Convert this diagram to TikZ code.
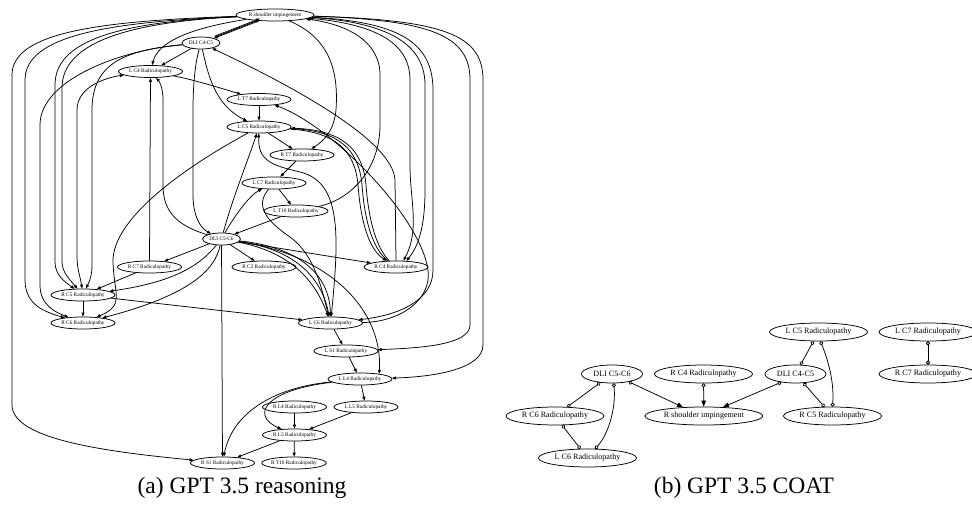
\documentclass[tikz,border=0pt]{standalone}
\usepackage{fontspec}
\setmainfont{Liberation Serif}
\usetikzlibrary{shapes.geometric,arrows.meta}
\begin{document}
\begin{tikzpicture}[x=1pt,y=-1pt,
  lnode/.style={ellipse,draw,line width=0.75pt,inner sep=0pt,minimum width=64pt,minimum height=12pt,font=\fontsize{5.3}{6}\selectfont},
  ldli/.style={lnode,minimum width=38pt},
  lrsi/.style={lnode,minimum width=78pt},
  e/.style={line width=0.75pt,-{Triangle[length=4pt,width=3pt]}},
  er/.style={line width=0.75pt,{Triangle[length=4pt,width=3pt]}-},
  eb/.style={line width=0.75pt,{Triangle[length=4pt,width=3pt]}-{Triangle[length=4pt,width=3pt]}},
  rnode/.style={ellipse,draw,line width=0.75pt,inner sep=0pt,minimum width=98pt,minimum height=18pt,font=\fontsize{8.1}{9}\selectfont},
  rdli/.style={rnode,minimum width=61pt},
  rrsi/.style={rnode,minimum width=118pt},
  oo/.style={line width=0.75pt,{Circle[open,length=4pt,width=4pt]}-{Circle[open,length=4pt,width=4pt]}},
  oa/.style={line width=0.75pt,{Circle[open,length=4pt,width=4pt]}-{Triangle[length=6pt,width=4.5pt]}},
  captxt/.style={font=\fontsize{23.5}{26}\selectfont,inner sep=0pt}
]
\useasboundingbox (0,0) rectangle (972,508);
% ---------------- left graph nodes
\node[lrsi] (rsi) at (275,15) {R shoulder impingement};
\node[ldli] (d45) at (201,43) {DLI C4-C5};
\node[lnode] (lc4) at (150.5,71.5) {L C4 Radiculopathy};
\node[lnode] (lt7) at (259,99.5) {L T7 Radiculopathy};
\node[lnode] (lc5) at (259,127) {L C5 Radiculopathy};
\node[lnode] (rt7) at (302,155) {R T7 Radiculopathy};
\node[lnode] (lc7) at (274,183) {L C7 Radiculopathy};
\node[lnode] (lt10) at (296,211) {L T10 Radiculopathy};
\node[ldli] (d56) at (221.5,239) {DLI C5-C6};
\node[lnode] (rc7) at (149.5,267) {R C7 Radiculopathy};
\node[lnode] (rc2) at (264,267) {R C2 Radiculopathy};
\node[lnode] (rc4) at (396,267) {R C4 Radiculopathy};
\node[lnode] (rc5) at (83,295) {R C5 Radiculopathy};
\node[lnode] (rc6) at (83,323) {R C6 Radiculopathy};
\node[lnode] (lc6) at (330.5,323) {L C6 Radiculopathy};
\node[lnode] (ls1) at (346,351) {L S1 Radiculopathy};
\node[lnode] (ll4) at (360,379) {L L4 Radiculopathy};
\node[lnode] (rl4) at (294.5,407) {R L4 Radiculopathy};
\node[lnode] (ll5) at (366,407) {L L5 Radiculopathy};
\node[lnode] (rl5) at (294.5,435) {R L5 Radiculopathy};
\node[lnode] (rs1) at (222.5,463) {R S1 Radiculopathy};
\node[lnode] (rt10) at (294,463) {R T10 Radiculopathy};
% ---------------- left graph edges
% left fan from R shoulder impingement
\draw[e] (rsi) .. controls (100,21) and (12,32) .. (12,75) -- (12,405) .. controls (12,440) and (110,452) .. (rs1);
\draw[e] (rsi) .. controls (110,22) and (25,35) .. (25,80) -- (25,280) .. controls (25,305) and (45,312) .. (rc6);
\draw[e] (rsi) .. controls (120,22) and (55,40) .. (55,85) -- (55,262) .. controls (55,275) and (65,282) .. (rc5);
\draw[e] (rsi) .. controls (130,22) and (62,42) .. (62,88) -- (62,262) .. controls (62,272) and (70,280) .. (rc5);
\draw[e] (d45) .. controls (120,50) and (40,80) .. (40,125) -- (40,285) .. controls (40,305) and (55,312) .. (rc6);
\draw[eb] (rc5) .. controls (80,275) and (77,270) .. (77,255) -- (77,110) .. controls (77,85) and (110,77) .. (lc4);
\draw[e] (d45) .. controls (130,50) and (92,60) .. (92,110) -- (92,265) .. controls (92,275) and (90,280) .. (rc5);
\draw[e] (rsi) .. controls (190,28) and (158,42) .. (lc4);
\draw[e] (d45) -- (lc4);
\draw[e] (rsi.-160) -- (d45.20);
\draw[er] ([xshift=0.45pt,yshift=1.1pt]rsi.-160) -- ([xshift=0.45pt,yshift=1.1pt]d45.20);
\draw[er] ([xshift=0.9pt,yshift=2.2pt]rsi.-160) -- ([xshift=0.9pt,yshift=2.2pt]d45.20);
\draw[e] (rc7.north) -- (lc4.south);
\draw[e] (d56) .. controls (175,225) and (163,210) .. (163,185) -- (163,100) .. controls (163,85) and (158,80) .. (lc4);
\draw[e] (d45) .. controls (196,60) and (193,80) .. (193,110) -- (193,195) .. controls (193,215) and (200,228) .. (d56);
\draw[e] (lc4) .. controls (195,80) and (220,88) .. (lt7);
\draw[e] (d45) .. controls (208,75) and (215,105) .. (lc5);
\draw[e] (lt7) -- (lc5);
\draw[e] (lc5) -- (rt7);
\draw[e] (rsi) .. controls (335,40) and (338,80) .. (336,110) .. controls (334,130) and (325,140) .. (rt7);
\draw[e] (rt7) -- (lc7);
\draw[e] (lc7) -- (lt10);
\draw[e] (lt10) -- (d56);
\draw[e] (lt10) .. controls (350,200) and (380,170) .. (380,125) -- (380,75) .. controls (380,40) and (345,24) .. (rsi);
\draw[e] (d56) .. controls (235,215) and (250,195) .. (lc7);
\draw[e] (d56) .. controls (232,200) and (248,160) .. (lc5);
\draw[e] (lc5) .. controls (180,170) and (112,220) .. (113,262) .. controls (114,295) and (125,305) .. (rc6);
\draw[e] (d56) -- (rc7);
\draw[e] (d56) .. controls (200,265) and (175,282) .. (rc5);
\draw[e] (d56) .. controls (215,270) and (190,295) .. (rc6);
\draw[e] (rc7) -- (rc5);
\draw[e] (rc5) -- (rc6);
\draw[e] (rc5) -- (lc6);
\draw[e] (d56) -- (rs1);
\draw[e] (d56) -- (rc2);
\draw[e] (d56) -- (rc4);
\draw[e] (d56) .. controls (290,252) and (315,280) .. (lc6);
\draw[e] (d56) .. controls (298,250) and (322,280) .. (lc6);
\draw[e] (d56) .. controls (306,248) and (330,280) .. (lc6);
\draw[e] (d56) .. controls (330,255) and (383,310) .. (ll4.15);
\draw[eb] (lc5) .. controls (258,160) and (270,165) .. (300,172) .. controls (340,182) and (340,230) .. (lc6);
\draw[e] (lc7) .. controls (255,205) and (265,220) .. (290,237) .. controls (315,255) and (322,290) .. (lc6);
\draw[e] (lc5) .. controls (335,132) and (355,150) .. (358,185) .. controls (361,225) and (370,250) .. (rc4);
\draw[er] (lc5) .. controls (339,131) and (359,150) .. (362,185) .. controls (365,225) and (374,250) .. (rc4);
\draw[er] (lc5) .. controls (343,130) and (363,150) .. (366,185) .. controls (369,225) and (378,250) .. (rc4);
\draw[e] (rc4.north) -- (395,180) .. controls (393,140) and (290,85) .. (d45);
\draw[e] (lc6) .. controls (400,322) and (432,300) .. (428,270) .. controls (420,215) and (330,125) .. (lt7);
% right fan from R shoulder impingement
\draw[eb] (rsi) .. controls (370,24) and (410,40) .. (410,80) -- (410,165) .. controls (410,200) and (420,230) .. (rc4.40);
\draw[e] (rsi) .. controls (380,22) and (425,40) .. (425,85) -- (425,190) .. controls (425,235) and (415,250) .. (rc4.30);
\draw[e] (rsi) .. controls (395,22) and (433,40) .. (433,90) -- (433,270) .. controls (433,300) and (400,315) .. (lc6);
\draw[e] (rsi) .. controls (430,20) and (470,35) .. (470,80) -- (470,325) .. controls (470,345) and (420,348) .. (ls1);
\draw[e] (rsi) .. controls (445,20) and (483,35) .. (483,80) -- (483,345) .. controls (483,370) and (430,377) .. (ll4);
% bottom part
\draw[e] (lc6) -- (ls1);
\draw[e] (ls1) -- (ll4);
\draw[e] (ll4) -- (ll5);
\draw[e] (ll4) .. controls (270,388) and (232,415) .. (rs1);
\draw[e] (ll4) .. controls (265,390) and (250,415) .. (rl5);
\draw[e] (rl4) -- (rl5);
\draw[e] (ll5) -- (rl5);
\draw[e] (rl5) -- (rs1);
\draw[e] (rl5) -- (rt10);
% ---------------- right graph
\node[rnode] (rlc5) at (818.5,332) {L C5 Radiculopathy};
\node[rnode] (rlc7) at (928,332) {L C7 Radiculopathy};
\node[rdli] (rd56) at (612,374) {DLI C5-C6};
\node[rnode] (rrc4) at (703.5,374) {R C4 Radiculopathy};
\node[rdli] (rd45) at (795.5,374) {DLI C4-C5};
\node[rnode] (rrc7) at (928,374) {R C7 Radiculopathy};
\node[rnode] (rrc6) at (555,416) {R C6 Radiculopathy};
\node[rrsi] (rrsi) at (703.8,416) {R shoulder impingement};
\node[rnode] (rrc5) at (832.5,416) {R C5 Radiculopathy};
\node[rnode] (rlc6) at (587.5,458) {L C6 Radiculopathy};
\draw[oo] (rlc5) -- (rd45);
\draw[oo] (rlc5.-78) .. controls (830,365) and (834,385) .. (rrc5.north);
\draw[oo] (rlc7) -- (rrc7);
\draw[oo] (rd56) -- (rrc6);
\draw[oo] (rd56.-80) .. controls (616,405) and (610,432) .. (rlc6.50);
\draw[oa] (rd56.-25) -- (rrsi.157);
\draw[oa] (rrc4) -- (rrsi);
\draw[oa] (rd45.-150) -- (rrsi.25);
\draw[oo] (rd45) -- (rrc5);
\draw[oo] (rrc6) -- (rlc6);
% ---------------- captions
\node[captxt] (capa) at (242,488) {(a)\ GPT 3.5 reasoning};
\node[captxt] (capb) at (744,488) {(b)\ GPT 3.5 COAT};
\end{tikzpicture}
\end{document}
